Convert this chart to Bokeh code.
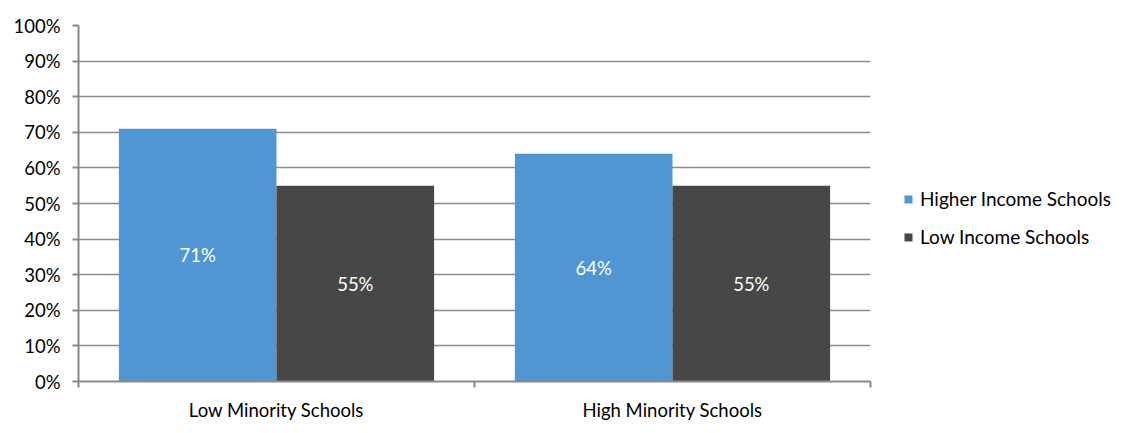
from bokeh.plotting import figure
from bokeh.models import (ColumnDataSource, FixedTicker, NumeralTickFormatter,
                          Legend, LegendItem, Range1d)
from bokeh.core.properties import value
from bokeh.embed import file_html
from bokeh.resources import INLINE

categories = ["Low Minority Schools", "High Minority Schools"]
series_names = ["Higher Income Schools", "Low Income Schools"]
higher_income = [0.71, 0.64]
low_income = [0.55, 0.55]
colors = ["#4F96D2", "#474747"]
y_ticks = [i / 10 for i in range(11)]

FONT = "Lato"
FS = "18.5px"
n = len(categories)
centers = [i + 0.5 for i in range(n)]
bar_w = 0.398
offsets = [-0.199, 0.199]

p = figure(frame_width=792, frame_height=356, output_backend="svg", toolbar_location=None,
           x_range=Range1d(0, n), y_range=Range1d(0, 1),
           min_border_left=78, min_border_top=25, min_border_bottom=44,
           min_border_right=253)
p.outline_line_color = None
p.background_fill_color = "white"

renderers = []
for vals, off, col in zip([higher_income, low_income], offsets, colors):
    src = ColumnDataSource(dict(
        x=[c + off for c in centers],
        top=vals,
        ymid=[v / 2 for v in vals],
        lbl=[f"{round(v * 100)}%" for v in vals]))
    r = p.vbar(x="x", top="top", bottom=0, width=bar_w, source=src,
               fill_color=col, line_color=None)
    renderers.append(r)
    p.text(x="x", y="ymid", text="lbl", source=src, text_color="white",
           text_align="center", text_baseline="middle",
           text_font=value(FONT), text_font_size=FS)

# axes
xa = p.xaxis[0]
xa.ticker = FixedTicker(ticks=centers, minor_ticks=list(range(n + 1)))
xa.major_label_overrides = {c: lab for c, lab in zip(centers, categories)}
xa.major_tick_line_color = None
xa.minor_tick_line_color = "#888888"
xa.minor_tick_line_width = 2
xa.minor_tick_out = 6
xa.minor_tick_in = 0
xa.axis_line_color = "#888888"
xa.axis_line_width = 2
xa.major_label_text_font = FONT
xa.major_label_text_font_size = FS
xa.major_label_text_color = "#000000"
xa.major_label_standoff = 11

ya = p.yaxis[0]
ya.ticker = FixedTicker(ticks=y_ticks, minor_ticks=[])
ya.formatter = NumeralTickFormatter(format="0%")
ya.major_tick_line_color = "#888888"
ya.major_tick_line_width = 2
ya.major_tick_out = 6
ya.major_tick_in = 0
ya.axis_line_color = "#888888"
ya.axis_line_width = 2
ya.major_label_text_font = FONT
ya.major_label_text_font_size = FS
ya.major_label_text_color = "#000000"
ya.major_label_standoff = 12

p.xgrid.grid_line_color = None
p.ygrid.ticker = FixedTicker(ticks=y_ticks)
p.ygrid.grid_line_color = "#8c8c8c"
p.ygrid.grid_line_width = 1.5

legend = Legend(items=[LegendItem(label=s, renderers=[r]) for s, r in zip(series_names, renderers)],
                location=(33, 133), glyph_width=10, glyph_height=10,
                label_standoff=7, spacing=15, label_height=20, padding=0, margin=0,
                border_line_color=None, background_fill_alpha=0,
                label_text_font=FONT, label_text_font_size="19px",
                label_text_color="#000000")
p.add_layout(legend, "right")

open("out.html", "w").write(file_html(p, INLINE))
